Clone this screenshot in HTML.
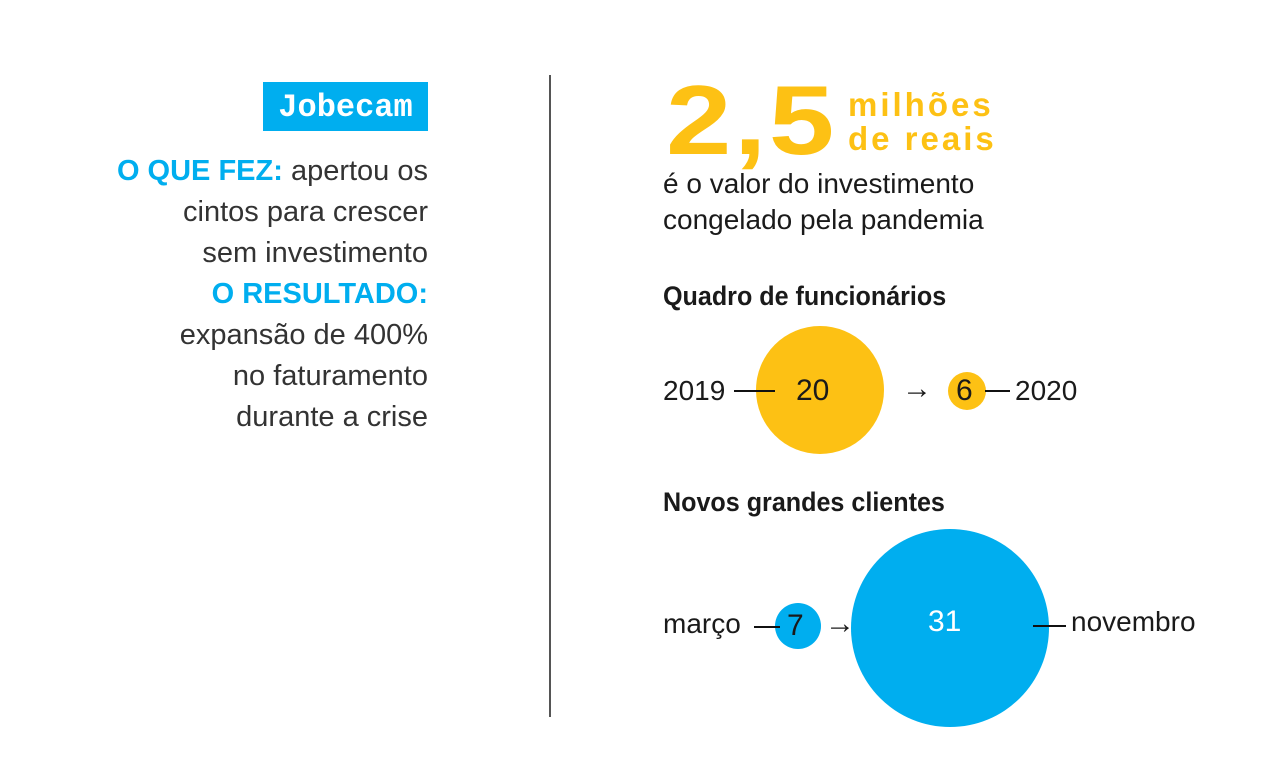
<!DOCTYPE html>
<html><head><meta charset="utf-8"><style>
body{margin:0;width:1280px;height:780px;background:#fff;position:relative;overflow:hidden;font-family:"Liberation Sans",sans-serif;color:#1a1a1a}
.a{position:absolute;white-space:nowrap}
.l{position:absolute;right:852px;text-align:right;font-size:29px;color:#333;line-height:41px}
.b{color:#00AEEF;font-weight:bold}
.c{position:absolute;border-radius:50%}
.h{position:absolute;height:2px;background:#111}
</style></head><body>
<div class="a" style="left:263px;top:82px;width:165px;height:49px;background:#00AEEF;color:#fff;font-family:'Liberation Mono',monospace;font-weight:bold;font-size:32px;line-height:51px;text-align:center">Jobecam</div>
<div class="l" style="top:151px;white-space:nowrap"><span class="b">O QUE FEZ:</span> apertou os<br>cintos para crescer<br>sem investimento<br><span class="b">O RESULTADO:</span><br>expansão de 400%<br>no faturamento<br>durante a crise</div>
<div class="a" style="left:549px;top:75px;width:2px;height:642px;background:#555"></div>

<div class="a" style="left:666px;top:60px;font-size:98px;font-weight:bold;color:#FDC114;line-height:120px;letter-spacing:2px;transform:scaleX(1.2);transform-origin:left top">2,5</div>
<div class="a" style="left:848px;top:88px;font-size:33px;font-weight:bold;color:#FDC114;line-height:34px;letter-spacing:3px">milhões<br>de reais</div>
<div class="a" style="left:663px;top:166px;font-size:28px;line-height:36px">é o valor do investimento<br>congelado pela pandemia</div>

<div class="a" style="left:663px;top:278px;font-size:27px;font-weight:bold;line-height:36px;transform:scaleX(0.93);transform-origin:left top">Quadro de funcionários</div>
<div class="c" style="left:756px;top:326px;width:128px;height:128px;background:#FDC114"></div>
<div class="c" style="left:948px;top:372px;width:38px;height:38px;background:#FDC114"></div>
<div class="a" style="left:663px;top:373px;font-size:28px;line-height:36px">2019</div>
<div class="h" style="left:734px;top:390px;width:41px"></div>
<div class="a" style="left:796px;top:373px;font-size:30px;line-height:36px">20</div>
<div class="a" style="left:902px;top:371px;font-size:30px;line-height:36px">→</div>
<div class="a" style="left:956px;top:373px;font-size:30px;line-height:36px">6</div>
<div class="h" style="left:985px;top:390px;width:25px"></div>
<div class="a" style="left:1015px;top:373px;font-size:28px;line-height:36px">2020</div>

<div class="a" style="left:663px;top:484px;font-size:27px;font-weight:bold;line-height:36px;transform:scaleX(0.93);transform-origin:left top">Novos grandes clientes</div>
<div class="c" style="left:775px;top:603px;width:46px;height:46px;background:#00AEEF"></div>
<div class="c" style="left:851px;top:529px;width:198px;height:198px;background:#00AEEF"></div>
<div class="a" style="left:663px;top:606px;font-size:28px;line-height:36px">março</div>
<div class="h" style="left:754px;top:626px;width:26px"></div>
<div class="a" style="left:787px;top:608px;font-size:30px;line-height:36px">7</div>
<div class="a" style="left:825px;top:606px;font-size:30px;line-height:36px">→</div>
<div class="a" style="left:928px;top:604px;font-size:30px;line-height:36px;color:#fff">31</div>
<div class="h" style="left:1033px;top:625px;width:33px"></div>
<div class="a" style="left:1071px;top:604px;font-size:28px;line-height:36px">novembro</div>
</body></html>
